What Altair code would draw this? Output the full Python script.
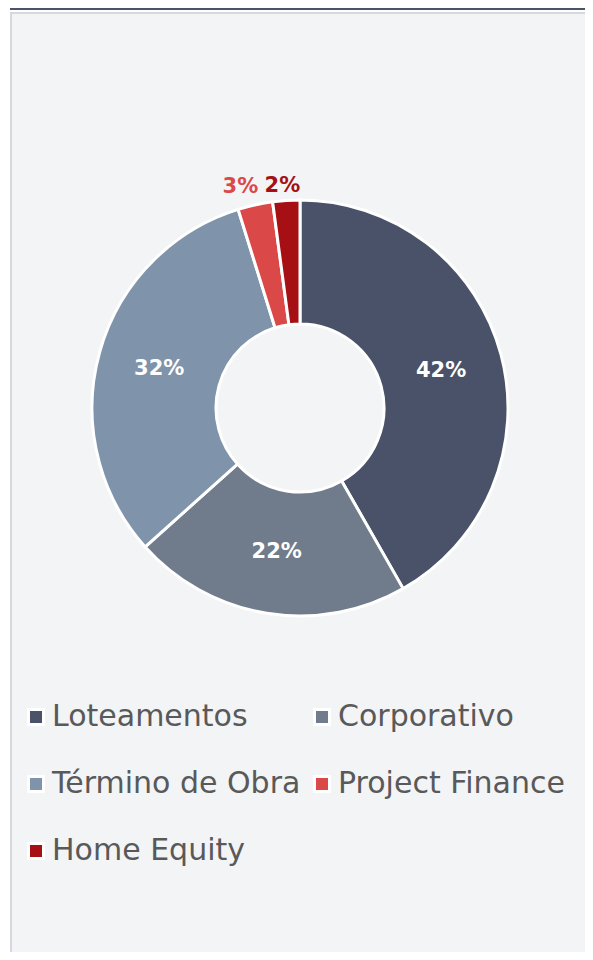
import altair as alt
import pandas as pd

categories = ["Loteamentos", "Corporativo", "Término de Obra", "Project Finance", "Home Equity"]
shares = [41.7, 21.6, 31.8, 2.7, 2.1]
labels = ["42%", "22%", "32%", "3%", "2%"]
colors = ["#495268", "#707c8b", "#7f93ab", "#db4848", "#a61014"]

df = pd.DataFrame({
    "category": categories,
    "share": shares,
    "label": labels,
    "idx": list(range(len(categories))),
})

color_scale = alt.Scale(domain=categories, range=colors)
CX, CY = 292, 400
FONT = "DejaVu Sans"

panel = alt.Chart(alt.Data(values=[{}])).mark_rect(
    fill="#f3f4f6", stroke="#d5d8de", strokeWidth=2
).encode(x=alt.value(3), x2=alt.value(720), y=alt.value(5), y2=alt.value(1100))

topline = alt.Chart(alt.Data(values=[{}])).mark_rule(
    color="#4a5468", strokeWidth=2
).encode(x=alt.value(2), x2=alt.value(577), y=alt.value(1))

base = alt.Chart(df).encode(
    theta=alt.Theta("share:Q", stack=True),
    order=alt.Order("idx:Q", sort="ascending"),
)

arcs = base.mark_arc(innerRadius=84, outerRadius=208, stroke="white", strokeWidth=3).encode(
    color=alt.Color("category:N", scale=color_scale, legend=None),
    x=alt.value(CX), y=alt.value(CY),
)

inner_text = base.transform_calculate(
    t="datum.share >= 5 ? datum.label : ''"
).mark_text(radius=146, font=FONT, fontSize=21, fontWeight="bold", color="white").encode(
    text="t:N", x=alt.value(CX), y=alt.value(CY),
)

outer_pf = base.transform_calculate(
    t="datum.category == 'Project Finance' ? datum.label : ''"
).mark_text(radius=226, dx=-11, font=FONT, fontSize=21, fontWeight="bold").encode(
    text="t:N",
    color=alt.Color("category:N", scale=color_scale, legend=None),
    x=alt.value(CX), y=alt.value(CY),
)

outer_he = base.transform_calculate(
    t="datum.category == 'Home Equity' ? datum.label : ''"
).mark_text(radius=222, dx=-3, font=FONT, fontSize=21, fontWeight="bold").encode(
    text="t:N",
    color=alt.Color("category:N", scale=color_scale, legend=None),
    x=alt.value(CX), y=alt.value(CY),
)

leg = alt.Chart(df).transform_calculate(
    lx="28 + (datum.idx % 2) * 286",
    ly="709 + floor(datum.idx / 2) * 67",
    tx="44 + (datum.idx % 2) * 286",
)

leg_sq = leg.mark_square(size=225, stroke="white", strokeWidth=3, opacity=1).encode(
    x=alt.X("lx:Q", scale=None, axis=None),
    y=alt.Y("ly:Q", scale=None, axis=None),
    color=alt.Color("category:N", scale=color_scale, legend=None),
)

leg_txt = leg.mark_text(align="left", baseline="middle", font=FONT, fontSize=30, color="#595959").encode(
    x=alt.X("tx:Q", scale=None, axis=None),
    y=alt.Y("ly:Q", scale=None, axis=None),
    text="category:N",
)

chart = alt.layer(panel, topline, arcs, inner_text, outer_pf, outer_he, leg_sq, leg_txt).properties(
    width=577, height=944, padding=0, autosize="none", background="white"
).configure_view(stroke=None)

chart.save("out.html", embed_options={"renderer": "svg", "actions": False})
